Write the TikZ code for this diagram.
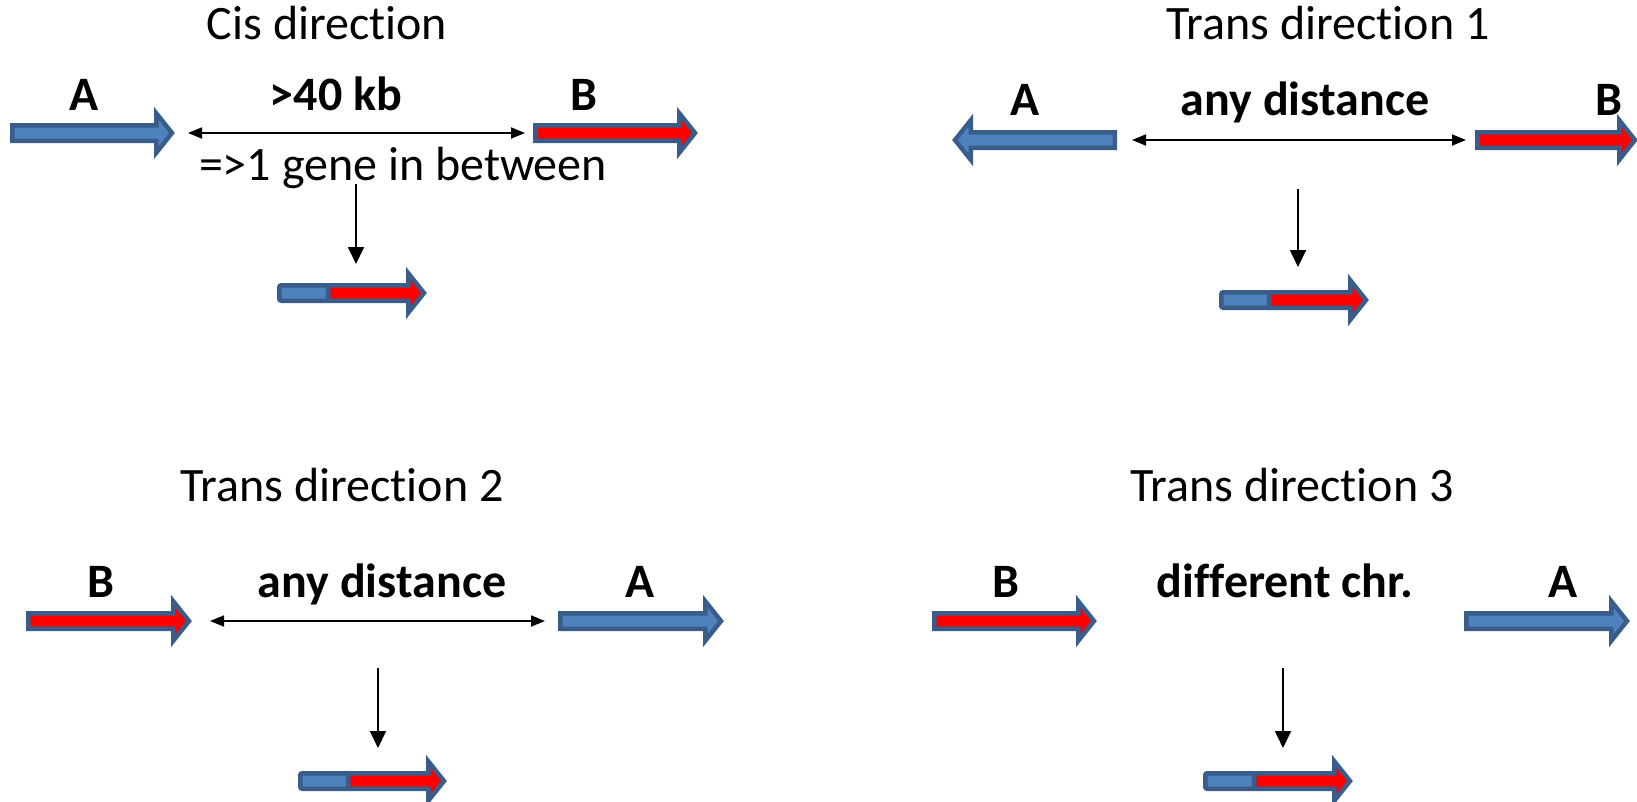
\documentclass[tikz,border=0pt]{standalone}
\usepackage{fontspec}
\setmainfont[Ligatures=NoCommon]{Carlito}
\usetikzlibrary{arrows.meta}
\definecolor{geneblue}{HTML}{4F81BD}
\definecolor{geneedge}{HTML}{385D8A}
\definecolor{genered}{HTML}{FF0000}
\tikzset{
  gene/.style={draw=geneedge, line width=4.5pt, line join=miter, miter limit=10},
  title/.style={font=\fontsize{48}{56}\selectfont, anchor=base, inner sep=0pt},
  lab/.style={font=\fontsize{48}{56}\selectfont\bfseries, anchor=base, inner sep=0pt},
  dbl/.style={line width=1.8pt, {Triangle[length=14pt,width=11pt]}-{Triangle[length=14pt,width=11pt]}},
  down/.style={line width=1.8pt, -{Triangle[length=17pt,width=16pt]}},
}
% right-pointing gene arrow: name, x1 (left), x2 (tip), y, fill
\newcommand{\geneR}[5]{%
  \draw[gene, fill=#5] ({#2+2.25},{#4-7.75}) -- ({#3-18.75},{#4-7.75}) -- ({#3-18.75},{#4-19.75})
    -- ({#3-3},{#4}) -- ({#3-18.75},{#4+19.75}) -- ({#3-18.75},{#4+7.75}) -- ({#2+2.25},{#4+7.75}) -- cycle;
  \coordinate (#1-l) at (#2,#4); \coordinate (#1-r) at (#3,#4);}
% left-pointing gene arrow: name, x1 (tip), x2 (right end), y, fill
\newcommand{\geneL}[5]{%
  \draw[gene, fill=#5] ({#3-2.25},{#4-7.75}) -- ({#2+18.75},{#4-7.75}) -- ({#2+18.75},{#4-19.75})
    -- ({#2+3},{#4}) -- ({#2+18.75},{#4+19.75}) -- ({#2+18.75},{#4+7.75}) -- ({#3-2.25},{#4+7.75}) -- cycle;
  \coordinate (#1-l) at (#2,#4); \coordinate (#1-r) at (#3,#4);}
% fused arrow: name, x1 (left), xd (divide), x2 (tip), y
\newcommand{\fused}[5]{%
  \draw[gene, fill=genered] ({#3},{#5-7.75}) -- ({#4-18.75},{#5-7.75}) -- ({#4-18.75},{#5-19.75})
    -- ({#4-3},{#5}) -- ({#4-18.75},{#5+19.75}) -- ({#4-18.75},{#5+7.75}) -- ({#3},{#5+7.75}) -- cycle;
  \draw[gene, fill=geneblue, rounded corners=2pt] ({#2+2.25},{#5-7.75}) rectangle ({#3},{#5+7.75});
  \coordinate (#1) at (#2,#5);}
\begin{document}
\begin{tikzpicture}[x=1pt,y=-1pt]
\useasboundingbox (0,0) rectangle (1637,801);

% ---------- Cis direction ----------
\node[title] (t1) at (327,39) {Cis direction};
\geneR{cA}{10}{175}{133}{geneblue}
\geneR{cB}{533}{698}{133}{genered}
\node[lab] (cAl) at (84,110) {A};
\node[lab] (cdist) at (336,110) {>40 kb};
\node[lab] (cBl) at (584,110) {B};
\node[title] (cgene) at (403,180) {=>1 gene in between};
\coordinate (c1) at (188,133); \coordinate (c2) at (525,133);
\draw[dbl] (c1) -- (c2);
\coordinate (cd1) at (356,184); \coordinate (cd2) at (356,264);
\draw[down] (cd1) -- (cd2);
\fused{cF}{277}{328}{427}{293}

% ---------- Trans direction 1 ----------
\node[title] (t2) at (1328,39) {Trans direction 1};
\geneL{aA}{952}{1117}{140}{geneblue}
\geneR{aB}{1475}{1638}{140}{genered}
\node[lab] (aAl) at (1025,115) {A};
\node[lab] (adist) at (1305,115) {any distance};
\node[lab] (aBl) at (1609,115) {B};
\coordinate (a1) at (1132,140); \coordinate (a2) at (1466,140);
\draw[dbl] (a1) -- (a2);
\coordinate (ad1) at (1298,189); \coordinate (ad2) at (1298,267);
\draw[down] (ad1) -- (ad2);
\fused{aF}{1219}{1269}{1369}{300}

% ---------- Trans direction 2 ----------
\node[title] (t3) at (342,501) {Trans direction 2};
\geneR{bB}{26}{192}{621}{genered}
\geneR{bA}{558}{724}{621}{geneblue}
\node[lab] (bBl) at (101,597) {B};
\node[lab] (bdist) at (382,597) {any distance};
\node[lab] (bAl) at (640,597) {A};
\coordinate (b1) at (210,621); \coordinate (b2) at (545,621);
\draw[dbl] (b1) -- (b2);
\coordinate (bd1) at (378,668); \coordinate (bd2) at (378,748);
\draw[down] (bd1) -- (bd2);
\fused{bF}{298}{348}{447}{781}

% ---------- Trans direction 3 ----------
\node[title] (t4) at (1292,501) {Trans direction 3};
\geneR{dB}{932}{1097}{621}{genered}
\geneR{dA}{1464}{1630}{621}{geneblue}
\node[lab] (dBl) at (1006,597) {B};
\node[lab] (ddist) at (1285,597) {different chr.};
\node[lab] (dAl) at (1563,597) {A};
\coordinate (dd1) at (1283,668); \coordinate (dd2) at (1283,748);
\draw[down] (dd1) -- (dd2);
\fused{dF}{1203}{1254}{1353}{781}
\end{tikzpicture}
\end{document}
